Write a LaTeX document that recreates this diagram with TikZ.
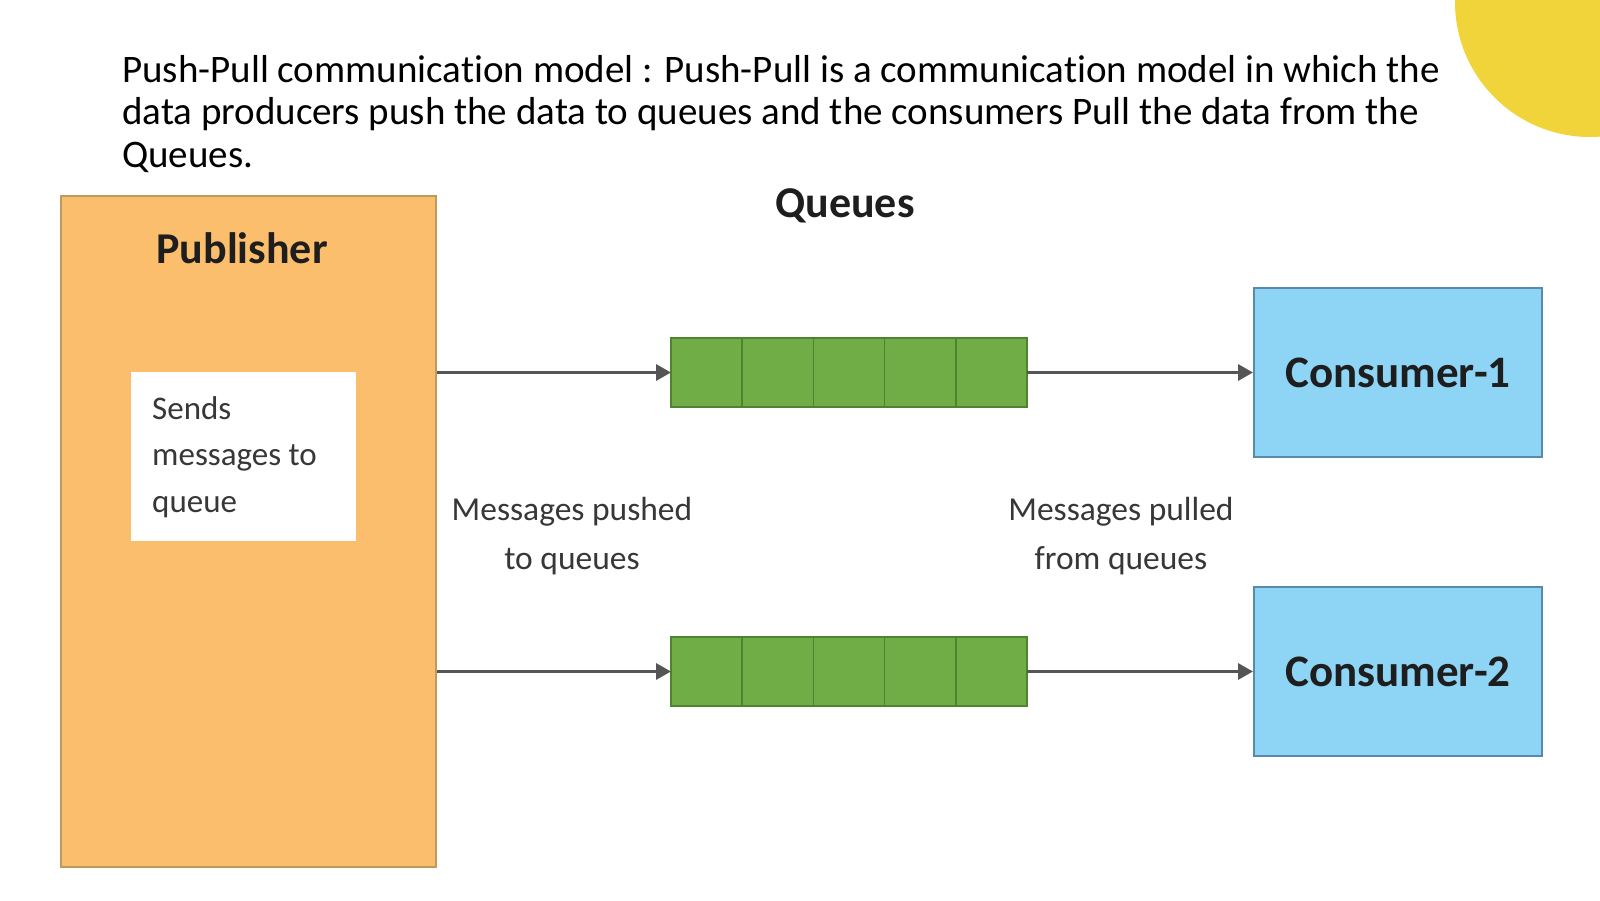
\documentclass[tikz,border=0pt]{standalone}
\usepackage{fontspec}
\setmainfont{Carlito}[Ligatures=NoCommon]
\usetikzlibrary{arrows.meta}
\definecolor{pubfill}{RGB}{251,190,108}
\definecolor{pubdraw}{RGB}{188,155,92}
\definecolor{qfill}{RGB}{112,173,71}
\definecolor{qdraw}{RGB}{78,132,48}
\definecolor{cfill}{RGB}{142,212,245}
\definecolor{cdraw}{RGB}{88,138,172}
\definecolor{sun}{RGB}{241,211,58}
\definecolor{arr}{RGB}{85,85,85}
\definecolor{txt}{RGB}{30,30,30}
\definecolor{gtxt}{RGB}{55,55,55}
\begin{document}
\begin{tikzpicture}[x=1pt,y=-1pt,
  pubbox/.style={draw=pubdraw, fill=pubfill, line width=2pt, minimum width=375pt, minimum height=671pt, anchor=north west, inner sep=0pt},
  notebox/.style={fill=white, minimum width=225pt, minimum height=169pt, anchor=north west, inner xsep=21pt, inner ysep=0pt, text width=183pt, align=flush left, text=gtxt, font=\fontsize{33}{46.5}\selectfont},
  cell/.style={draw=qdraw, fill=qfill, line width=1.5pt, minimum width=71.2pt, minimum height=69pt, inner sep=0pt, outer sep=0pt, anchor=west},
  cons/.style={draw=cdraw, fill=cfill, line width=2pt, minimum width=288pt, minimum height=169pt, inner sep=0pt, text=txt, font=\bfseries\fontsize{45}{50}\selectfont},
  flow/.style={draw=arr, line width=3.2pt, -{Triangle[length=15pt,width=16pt]}},
  ttl/.style={anchor=base west, inner sep=0pt, font=\fontsize{39}{43}\selectfont, text=black},
  lbl/.style={align=center, inner sep=0pt, text=gtxt, font=\fontsize{33.5}{49}\selectfont},
  head/.style={inner sep=0pt, anchor=base, text=txt, font=\bfseries\fontsize{44}{50}\selectfont}
]
\useasboundingbox (0,0) rectangle (1600,900);
\begin{scope}
\clip (0,0) rectangle (1600,900);
\fill[sun] (1590,2) circle (135);
\end{scope}

% title text
\node[ttl] (t1) at (122,82) {Push-Pull communication model : Push-Pull is a communication model in which the};
\node[ttl] (t2) at (122,124.5) {data producers push the data to queues and the consumers Pull the data from the};
\node[ttl] (t3) at (122,167) {Queues.};

% publisher
\node[pubbox] (pub) at (60,195) {};
\node[head] (pubt) at (242,263) {Publisher};
\node[notebox] (note) at (131,372) {Sends\\messages to\\queue};

% queues
\node[head] (qt) at (845,217) {Queues};
\foreach \i in {1,...,5} {
  \node[cell] (qa\i) at ({671+71.2*(\i-1)},372.5) {};
  \node[cell] (qb\i) at ({671+71.2*(\i-1)},671.5) {};
}

% consumers
\node[cons] (c1) at (1398,372.5) {Consumer-1};
\node[cons] (c2) at (1398,671.5) {Consumer-2};

% connectors
\draw[flow] (pub.east |- qa1.west) -- (qa1.west);
\draw[flow] (pub.east |- qb1.west) -- (qb1.west);
\draw[flow] (qa5.east) -- (c1.west);
\draw[flow] (qb5.east) -- (c2.west);

% labels
\node[lbl] (lp) at (572,536) {Messages pushed\\to queues};
\node[lbl] (ll) at (1121,536) {Messages pulled\\from queues};
\end{tikzpicture}
\end{document}
